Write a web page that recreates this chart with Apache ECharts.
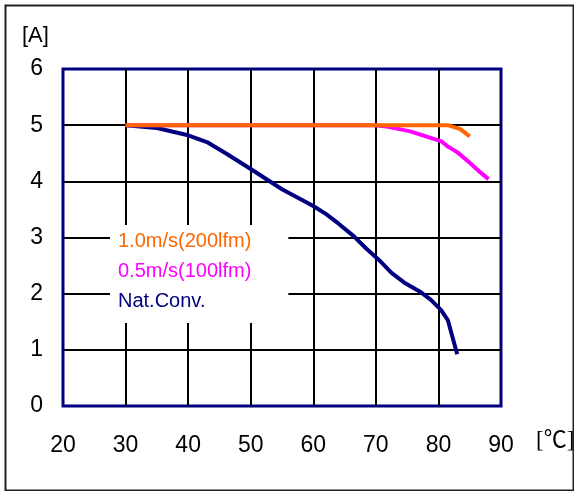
<!DOCTYPE html>
<html>
<head>
<meta charset="utf-8">
<script src="https://cdn.jsdelivr.net/npm/echarts@6/dist/echarts.min.js"></script>
<style>
html,body{margin:0;padding:0;background:#fff;}
#chart{width:574px;height:491px;}
</style>
</head>
<body>
<div id="chart"></div>
<script>
// ---- data ----
var seriesNames = ['1.0m/s(200lfm)', '0.5m/s(100lfm)', 'Nat.Conv.'];
var seriesColors = ['#FF6600', '#FF00FF', '#000080'];

var tempFast = [30, 70, 80, 81.5, 83.5, 85];
var currFast = [5.0, 5.0, 5.0, 5.0, 4.93, 4.8];

var tempMid = [30, 70, 72, 75.5, 78, 80.5, 81.5, 83, 85, 86.8, 88];
var currMid = [5.0, 5.0, 4.97, 4.89, 4.8, 4.71, 4.62, 4.52, 4.33, 4.15, 4.04];

var tempNat = [30, 35, 40, 43, 46, 50, 55, 60, 62, 64, 66.5, 68.5, 70.5, 72.5, 74.5, 77, 78.8, 80.4, 81.5, 83];
var currNat = [5.0, 4.95, 4.82, 4.7, 4.5, 4.22, 3.86, 3.56, 3.42, 3.25, 3.02, 2.8, 2.6, 2.37, 2.2, 2.04, 1.89, 1.71, 1.53, 0.92];

var xTicks = [20, 30, 40, 50, 60, 70, 80, 90];
var yTicks = [0, 1, 2, 3, 4, 5, 6];
var yUnit = '[A]';
var xUnit = '[\u2103]';

function pairs(xs, ys) { return xs.map(function (x, i) { return [x, ys[i]]; }); }

var FONT = '"Liberation Sans", Arial, sans-serif';
var chart = echarts.init(document.getElementById('chart'), null, {renderer: 'canvas'});

var option = {
  animation: false,
  backgroundColor: '#fff',
  grid: {
    left: 63, right: 73, top: 69, bottom: 85,
    show: true, borderColor: '#000080', borderWidth: 3, backgroundColor: 'transparent'
  },
  xAxis: {
    type: 'value',
    min: xTicks[0], max: xTicks[xTicks.length - 1], interval: 10,
    axisLine: {show: false},
    axisTick: {show: false},
    axisLabel: {color: '#000', fontSize: 23, fontFamily: FONT, margin: 28},
    splitLine: {show: true, showMinLine: false, showMaxLine: false, lineStyle: {color: '#000', width: 2}}
  },
  yAxis: {
    type: 'value',
    min: yTicks[0], max: yTicks[yTicks.length - 1], interval: 1,
    axisLine: {show: false},
    axisTick: {show: false},
    axisLabel: {color: '#000', fontSize: 23, fontFamily: FONT, margin: 20},
    splitLine: {show: true, showMinLine: false, showMaxLine: false, lineStyle: {color: '#000', width: 2}}
  },
  legend: {
    orient: 'vertical',
    left: 110, top: 225,
    backgroundColor: '#fff',
    padding: [1, 37, 7, 3],
    itemWidth: 0, itemHeight: 0, itemGap: 0,
    icon: 'none',
    selectedMode: false,
    textStyle: {fontSize: 20, lineHeight: 30, fontFamily: FONT},
    data: seriesNames.map(function (n, i) { return {name: n, textStyle: {color: seriesColors[i]}}; })
  },
  series: [
    {name: seriesNames[2], type: 'line', data: pairs(tempNat, currNat), showSymbol: false, symbol: 'none',
     lineStyle: {color: seriesColors[2], width: 4}, itemStyle: {color: seriesColors[2]}, z: 3},
    {name: seriesNames[1], type: 'line', data: pairs(tempMid, currMid), showSymbol: false, symbol: 'none',
     lineStyle: {color: seriesColors[1], width: 4}, itemStyle: {color: seriesColors[1]}, z: 4},
    {name: seriesNames[0], type: 'line', data: pairs(tempFast, currFast), showSymbol: false, symbol: 'none',
     lineStyle: {color: seriesColors[0], width: 4}, itemStyle: {color: seriesColors[0]}, z: 5}
  ],
  graphic: [
    {type: 'rect', left: 3, top: 3, z: 100, silent: true,
     shape: {width: 568, height: 485}, style: {fill: 'none', stroke: '#222', lineWidth: 2}},
    {type: 'text', left: 22, top: 25, z: 100, silent: true,
     style: {text: yUnit, fontSize: 22, fontFamily: FONT, fill: '#000'}},
    {type: 'text', left: 536, top: 429, z: 100, silent: true,
     style: {text: xUnit, fontSize: 23, fontFamily: '"Liberation Serif", "Noto Sans CJK JP", serif', fill: '#000'}}
  ]
};
chart.setOption(option);
</script>
</body>
</html>
